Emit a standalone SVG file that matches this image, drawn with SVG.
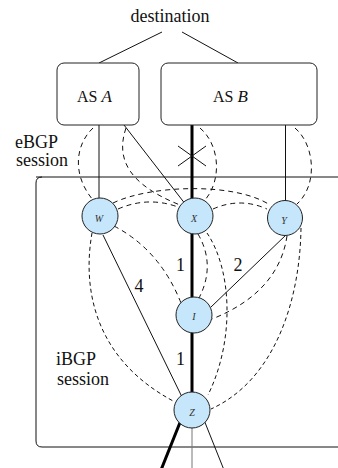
<svg xmlns="http://www.w3.org/2000/svg" width="338" height="468" viewBox="0 0 338 468">
<style>
text{font-family:'Liberation Serif','DejaVu Serif','Times New Roman',serif;fill:#111}
.lbl{font-size:18px}
.num{font-size:18px;text-anchor:middle}
.nl{font-size:10px;font-style:italic;text-anchor:middle;fill:#333}
.ln{stroke:#111;stroke-width:1;fill:none}
.thick{stroke:#000;stroke-width:3;fill:none}
.eb{stroke:#111;stroke-width:1;fill:none;stroke-dasharray:5,4}
.ib{stroke:#111;stroke-width:1;fill:none;stroke-dasharray:5,4}
.ib2{stroke:#111;stroke-width:1;fill:none;stroke-dasharray:4,3}
.box{fill:#fff;stroke:#222;stroke-width:1}
.node circle{fill:#c6e6fb;stroke:#222;stroke-width:1}
</style>
<g font-family="Liberation Serif, serif">
<text class="lbl" x="170" y="22" text-anchor="middle">destination</text>
<path class="ln" d="M36,177 H338 M338,447 H42 Q36,447 36,441 V183 Q36,177 42,177"/>
<text class="lbl" x="15" y="148">eBGP</text>
<text class="lbl" x="16" y="166">session</text>
<text class="lbl" x="56" y="365">iBGP</text>
<text class="lbl" x="57" y="385">session</text>
<g id="connectors">
<line class="ln" x1="162" y1="32" x2="99" y2="63"/>
<line class="ln" x1="182" y1="32" x2="238" y2="63"/>
<line class="ln" x1="99" y1="125" x2="99" y2="200"/>
<line class="ln" x1="124" y1="125" x2="186" y2="205"/>
<line class="thick" x1="192" y1="125" x2="192" y2="410"/>
<line class="ln" x1="178" y1="146" x2="206" y2="166"/>
<line class="ln" x1="178" y1="166" x2="206" y2="146"/>
<line class="ln" x1="285.5" y1="125" x2="285.5" y2="202"/>
<line class="ln" x1="287" y1="234" x2="211" y2="307"/>
<line class="ln" x1="103" y1="235" x2="182" y2="397"/>
<line class="thick" x1="185" y1="410" x2="161" y2="470"/>
<line stroke="#777" stroke-width="1" x1="192" y1="420" x2="192" y2="470"/>
<line class="ln" x1="200" y1="410" x2="224" y2="470"/>
<path class="eb" d="M93,128 C75,145 72,175 93,200"/>
<path class="eb" d="M126,128 C115,160 130,185 180,205"/>
<path class="eb" d="M200,128 C220,145 222,180 205,200"/>
<path class="eb" d="M295,128 C315,145 318,185 297,204"/>
<path class="ib" d="M113,203 C150,185 235,182 270,205"/>
<path class="ib" d="M118,209 Q148,196 178,207"/>
<path class="ib" d="M213,209 Q240,197 267,209"/>
<path class="ib" d="M114,226 Q160,250 181,303"/>
<path class="ib" d="M198,234 Q216,265 199,298"/>
<path class="ib2" d="M207,233 C232,270 235,340 208,395"/>
<path class="ib" d="M287,236 C282,270 260,300 212,319"/>
<path class="ib2" d="M301,228 C300,300 275,380 211,409"/>
<path class="ib2" d="M92,233 C82,290 95,360 175,402"/>
<text class="num" x="180.5" y="271">1</text>
<text class="num" x="238" y="271">2</text>
<text class="num" x="139" y="292">4</text>
<text class="num" x="180.5" y="365">1</text>
</g>
<g id="asA">
<rect class="box" x="57" y="63" width="82" height="62" rx="7"/>
<text x="77" y="102" font-size="16">AS <tspan font-style="italic" font-size="17">A</tspan></text>
</g>
<g id="asB">
<rect class="box" x="161" y="63" width="156" height="62" rx="7"/>
<text x="213" y="102" font-size="16">AS <tspan font-style="italic" font-size="17">B</tspan></text>
</g>
<g id="W" class="node"><circle cx="100" cy="216" r="18"/><text class="nl" x="99" y="222">W</text></g>
<g id="X" class="node"><circle cx="195" cy="216" r="18"/><text class="nl" x="194" y="222">X</text></g>
<g id="Y" class="node"><circle cx="285" cy="218" r="17.5"/><text class="nl" x="284" y="224">Y</text></g>
<g id="I" class="node"><circle cx="194" cy="315" r="18"/><text class="nl" x="194" y="320">I</text></g>
<g id="Z" class="node"><circle cx="192" cy="410" r="18"/><text class="nl" x="192" y="416">Z</text></g>
</g>
</svg>
